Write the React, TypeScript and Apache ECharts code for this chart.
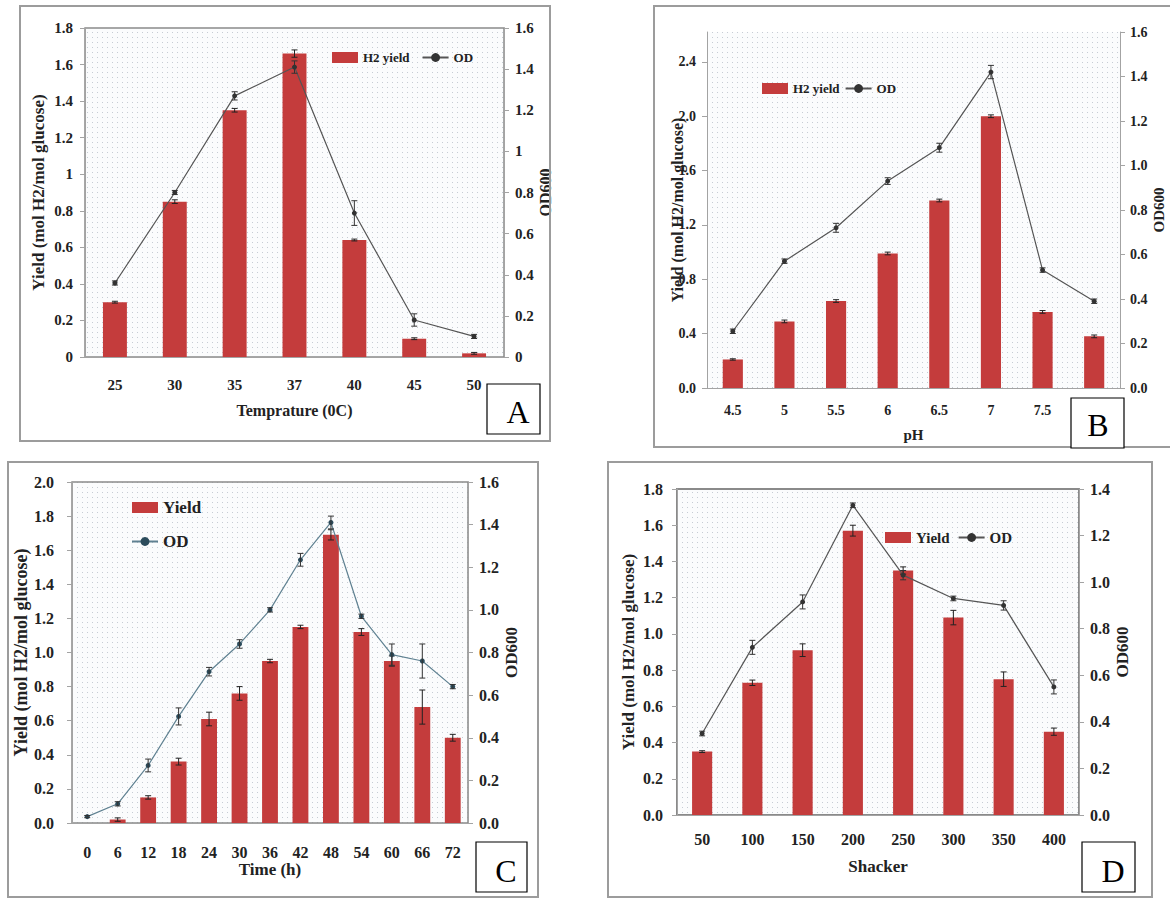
import React, { useEffect, useRef } from 'react';
import * as echarts from 'echarts';

// ---- Panel A: temperature ----
const tempCategories = ['25', '30', '35', '37', '40', '45', '50'];
const tempYield = [0.30, 0.85, 1.35, 1.66, 0.64, 0.10, 0.02];
const tempYieldErr = [0.005, 0.01, 0.01, 0.02, 0.005, 0.005, 0.005];
const tempOD = [0.36, 0.80, 1.27, 1.41, 0.70, 0.18, 0.10];
const tempODErr = [0.01, 0.01, 0.02, 0.03, 0.06, 0.03, 0.01];

// ---- Panel B: pH ----
const phCategories = ['4.5', '5', '5.5', '6', '6.5', '7', '7.5', '8'];
const phYield = [0.21, 0.49, 0.64, 0.99, 1.38, 2.0, 0.56, 0.38];
const phYieldErr = [0.005, 0.01, 0.01, 0.01, 0.01, 0.01, 0.01, 0.01];
const phOD = [0.255, 0.57, 0.72, 0.93, 1.08, 1.42, 0.53, 0.39];
const phODErr = [0.01, 0.01, 0.02, 0.015, 0.02, 0.03, 0.01, 0.01];

// ---- Panel C: time ----
const timeCategories = ['0', '6', '12', '18', '24', '30', '36', '42', '48', '54', '60', '66', '72'];
const timeYield = [0, 0.02, 0.15, 0.36, 0.61, 0.76, 0.95, 1.15, 1.69, 1.12, 0.95, 0.68, 0.50];
const timeYieldErr = [0, 0.01, 0.01, 0.02, 0.04, 0.04, 0.01, 0.01, 0.03, 0.02, 0.03, 0.1, 0.02];
const timeOD = [0.03, 0.09, 0.27, 0.50, 0.71, 0.84, 1.0, 1.235, 1.41, 0.97, 0.79, 0.76, 0.64];
const timeODErr = [0.005, 0.01, 0.03, 0.04, 0.02, 0.02, 0.01, 0.03, 0.03, 0.01, 0.05, 0.08, 0.01];

// ---- Panel D: shaker ----
const shakerCategories = ['50', '100', '150', '200', '250', '300', '350', '400'];
const shakerYield = [0.35, 0.73, 0.91, 1.57, 1.35, 1.09, 0.75, 0.46];
const shakerYieldErr = [0.005, 0.015, 0.035, 0.03, 0.02, 0.04, 0.04, 0.02];
const shakerOD = [0.35, 0.72, 0.915, 1.33, 1.03, 0.93, 0.90, 0.55];
const shakerODErr = [0.01, 0.03, 0.03, 0.01, 0.02, 0.01, 0.02, 0.03];

const SERIF = 'Liberation Serif';
const BAR_COLOR = '#c43c3c';
const AXIS_COLOR = '#a3a3a3';
const TEXT_COLOR = '#222';

const fmt1 = (v: number) => v.toFixed(1);
const fmtGeneral = (v: number) => String(Math.round(v * 100) / 100);

function makeDots() {
  const c = document.createElement('canvas');
  c.width = 5;
  c.height = 5;
  const ctx = c.getContext('2d')!;
  ctx.fillStyle = '#fbfcfd';
  ctx.fillRect(0, 0, 5, 5);
  ctx.fillStyle = '#c6ccd4';
  ctx.fillRect(2, 2, 1, 1);
  return c;
}

type PanelCfg = {
  cats: string[];
  hiddenLabels: number[];
  yieldV: number[];
  yieldE: number[];
  od: number[];
  odE: number[];
  grid: { left: number; top: number; width: number; height: number };
  border: number;
  leftMax: number;
  leftInterval: number;
  leftFmt: (v: number) => string;
  hideLeftMax: boolean;
  rightMax: number;
  rightFmt: (v: number) => string;
  labelSize: number;
  xLabelMargin: number;
  yLabelMargin: number;
  rLabelMargin: number;
  xName: string;
  xNameGap: number;
  yNameGap: number;
  yNameMove: boolean;
  rNameGap: number;
  nameSize: number;
  yNameSize: number;
  barWidth: string;
  lineColor: string;
  markerColor: string;
  barName: string;
  legend: any;
};

const panels: PanelCfg[] = [
  {
    cats: tempCategories, hiddenLabels: [], yieldV: tempYield, yieldE: tempYieldErr, od: tempOD, odE: tempODErr,
    grid: { left: 85, top: 28, width: 419, height: 329 }, border: 1.5,
    leftMax: 1.8, leftInterval: 0.2, leftFmt: fmtGeneral, hideLeftMax: false,
    rightMax: 1.6, rightFmt: fmtGeneral,
    labelSize: 15, xLabelMargin: 20, yLabelMargin: 12, rLabelMargin: 11,
    xName: 'Temprature (0C)', xNameGap: 45, yNameGap: 38, yNameMove: true, rNameGap: 25, nameSize: 16, yNameSize: 17,
    barWidth: '40%', lineColor: '#555', markerColor: '#333', barName: 'H2 yield',
    legend: { left: 327, top: 46, orient: 'horizontal', itemGap: 12, fontSize: 13 },
  },
  {
    cats: phCategories, hiddenLabels: [7], yieldV: phYield, yieldE: phYieldErr, od: phOD, odE: phODErr,
    grid: { left: 707, top: 32, width: 413, height: 356 }, border: 0,
    leftMax: 2.62, leftInterval: 0.4, leftFmt: fmt1, hideLeftMax: true,
    rightMax: 1.6, rightFmt: fmt1,
    labelSize: 14, xLabelMargin: 15, yLabelMargin: 11, rLabelMargin: 10,
    xName: 'pH', xNameGap: 39, yNameGap: 22, yNameMove: false, rNameGap: 29, nameSize: 15, yNameSize: 16,
    barWidth: '39%', lineColor: '#555', markerColor: '#333', barName: 'H2 yield',
    legend: { left: 757, top: 77, orient: 'horizontal', itemGap: 5, fontSize: 13 },
  },
  {
    cats: timeCategories, hiddenLabels: [], yieldV: timeYield, yieldE: timeYieldErr, od: timeOD, odE: timeODErr,
    grid: { left: 72, top: 482, width: 396, height: 341 }, border: 1.5,
    leftMax: 2.0, leftInterval: 0.2, leftFmt: fmt1, hideLeftMax: false,
    rightMax: 1.6, rightFmt: fmt1,
    labelSize: 16, xLabelMargin: 21, yLabelMargin: 18, rLabelMargin: 11,
    xName: 'Time (h)', xNameGap: 36, yNameGap: 40, yNameMove: true, rNameGap: 34, nameSize: 17, yNameSize: 18,
    barWidth: '52%', lineColor: '#5f8191', markerColor: '#2c4c5c', barName: 'Yield',
    legend: { left: 126, top: 494, orient: 'vertical', itemGap: 17, fontSize: 17 },
  },
  {
    cats: shakerCategories, hiddenLabels: [], yieldV: shakerYield, yieldE: shakerYieldErr, od: shakerOD, odE: shakerODErr,
    grid: { left: 677, top: 489, width: 402, height: 326 }, border: 2,
    leftMax: 1.8, leftInterval: 0.2, leftFmt: fmt1, hideLeftMax: false,
    rightMax: 1.4, rightFmt: fmt1,
    labelSize: 16, xLabelMargin: 16, yLabelMargin: 14, rLabelMargin: 11,
    xName: 'Shacker', xNameGap: 43, yNameGap: 40, yNameMove: true, rNameGap: 19, nameSize: 17, yNameSize: 17,
    barWidth: '40%', lineColor: '#555', markerColor: '#333', barName: 'Yield',
    legend: { left: 880, top: 525, orient: 'horizontal', itemGap: 8, fontSize: 15 },
  },
];

const errRender = (color: string) => (params: any, api: any) => {
  const x = api.value(0);
  const v = api.value(1);
  const e = api.value(2);
  if (!e) return null;
  const hi = api.coord([x, v + e]);
  const lo = api.coord([x, v - e]);
  const w = 3;
  const style = { stroke: color, lineWidth: 1 };
  return {
    type: 'group',
    children: [
      { type: 'line', shape: { x1: hi[0], y1: hi[1], x2: lo[0], y2: lo[1] }, style },
      { type: 'line', shape: { x1: hi[0] - w, y1: hi[1], x2: hi[0] + w, y2: hi[1] }, style },
      { type: 'line', shape: { x1: lo[0] - w, y1: lo[1], x2: lo[0] + w, y2: lo[1] }, style },
    ],
  };
};

function buildOption() {
  const dots = makeDots();
  const grid: any[] = [];
  const xAxis: any[] = [];
  const yAxis: any[] = [];
  const series: any[] = [];
  const legend: any[] = [];

  panels.forEach((p, i) => {
    const labelStyle = { fontFamily: SERIF, fontWeight: 'bold', fontSize: p.labelSize, color: TEXT_COLOR };
    const nameStyle = { fontFamily: SERIF, fontWeight: 'bold', fontSize: p.nameSize, color: TEXT_COLOR };
    const yNameStyle = { ...nameStyle, fontSize: p.yNameSize };
    grid.push({
      ...p.grid,
      show: true,
      backgroundColor: { image: dots, repeat: 'repeat' },
      borderColor: '#8a8a8a',
      borderWidth: p.border,
    });
    xAxis.push({
      type: 'category', gridIndex: i, data: p.cats,
      axisLine: { lineStyle: { color: AXIS_COLOR } },
      axisTick: { lineStyle: { color: AXIS_COLOR }, length: 6 },
      axisLabel: {
        ...labelStyle, margin: p.xLabelMargin,
        formatter: (v: string, idx: number) => (p.hiddenLabels.indexOf(idx) >= 0 ? '' : v),
      },
      name: p.xName, nameLocation: 'middle', nameGap: p.xNameGap, nameTextStyle: nameStyle,
    });
    yAxis.push({
      type: 'value', gridIndex: i, position: 'left', min: 0, max: p.leftMax, interval: p.leftInterval,
      axisLine: { show: true, lineStyle: { color: AXIS_COLOR } },
      axisTick: { show: true, lineStyle: { color: AXIS_COLOR }, length: 5 },
      splitLine: { show: false },
      axisLabel: { ...labelStyle, margin: p.yLabelMargin, formatter: p.leftFmt, showMaxLabel: !p.hideLeftMax },
      name: 'Yield (mol H2/mol glucose)', nameLocation: 'middle', nameGap: p.yNameGap,
      nameMoveOverlap: p.yNameMove, nameTextStyle: yNameStyle,
    });
    yAxis.push({
      type: 'value', gridIndex: i, position: 'right', min: 0, max: p.rightMax, interval: 0.2,
      axisLine: { show: true, lineStyle: { color: AXIS_COLOR } },
      axisTick: { show: true, lineStyle: { color: AXIS_COLOR }, length: 5 },
      splitLine: { show: false },
      axisLabel: { ...labelStyle, margin: p.rLabelMargin, formatter: p.rightFmt },
      name: 'OD600', nameLocation: 'middle', nameGap: p.rNameGap, nameTextStyle: nameStyle,
    });
    const yl = i * 2;
    const yr = i * 2 + 1;
    const barSeriesName = p.barName + '#' + i;
    const lineSeriesName = 'OD#' + i;
    series.push({
      type: 'bar', name: barSeriesName, xAxisIndex: i, yAxisIndex: yl, data: p.yieldV,
      barWidth: p.barWidth, itemStyle: { color: BAR_COLOR }, z: 2,
    });
    series.push({
      type: 'custom', xAxisIndex: i, yAxisIndex: yl, renderItem: errRender('#222'),
      data: p.cats.map((_, k) => [k, p.yieldV[k], p.yieldE[k]]), z: 3, silent: true,
    });
    series.push({
      type: 'line', name: lineSeriesName, xAxisIndex: i, yAxisIndex: yr, data: p.od,
      symbol: 'circle', symbolSize: 5,
      lineStyle: { color: p.lineColor, width: 1.2 },
      itemStyle: { color: p.markerColor },
      z: 4,
    });
    series.push({
      type: 'custom', xAxisIndex: i, yAxisIndex: yr, renderItem: errRender('#333'),
      data: p.cats.map((_, k) => [k, p.od[k], p.odE[k]]), z: 5, silent: true,
    });
    legend.push({
      data: [
        { name: barSeriesName, icon: 'rect' },
        { name: lineSeriesName },
      ],
      left: p.legend.left, top: p.legend.top, orient: p.legend.orient, itemGap: p.legend.itemGap,
      itemWidth: 26, itemHeight: 11,
      formatter: (n: string) => n.split('#')[0],
      textStyle: { fontFamily: SERIF, fontWeight: 'bold', fontSize: p.legend.fontSize, color: TEXT_COLOR },
      selectedMode: false,
    });
  });

  const frame = (x: number, y: number, w: number, h: number) => ({
    type: 'rect', shape: { x, y, width: w, height: h },
    style: { fill: 'none', stroke: '#9c9c9c', lineWidth: 2 }, z: 10, silent: true,
  });
  const letterBox = (x: number, y: number, w: number, h: number, letter: string, cx: number, cy: number) => ([
    { type: 'rect', shape: { x, y, width: w, height: h }, style: { fill: '#fff', stroke: '#000', lineWidth: 1.2 }, z: 20 },
    {
      type: 'text', x: cx, y: cy, z: 21,
      style: { text: letter, font: `32px ${SERIF}`, fill: '#000', textAlign: 'center', textVerticalAlign: 'middle' },
    },
  ]);

  const graphic = [
    frame(20, 6, 530, 435),
    frame(654, 6, 525, 441),
    frame(8, 462, 530, 435),
    frame(608, 462, 544, 435),
    ...letterBox(487, 384, 53, 50, 'A', 518, 412),
    ...letterBox(1071, 398, 53, 50, 'B', 1098, 425),
    ...letterBox(476, 842, 51, 50, 'C', 506, 871),
    ...letterBox(1082, 842, 53, 50, 'D', 1113, 871),
  ];

  return {
    animation: false,
    backgroundColor: '#ffffff',
    grid, xAxis, yAxis, series, legend, graphic,
  };
}

export default function App() {
  const ref = useRef<HTMLDivElement>(null);
  useEffect(() => {
    if (!ref.current) return;
    const chart = echarts.init(ref.current, undefined, { renderer: 'svg' });
    chart.setOption(buildOption() as any);
    return () => chart.dispose();
  }, []);
  return (
    <div
      ref={ref}
      style={{ position: 'fixed', left: 0, top: 0, width: 1170, height: 903, background: '#fff' }}
    />
  );
}
